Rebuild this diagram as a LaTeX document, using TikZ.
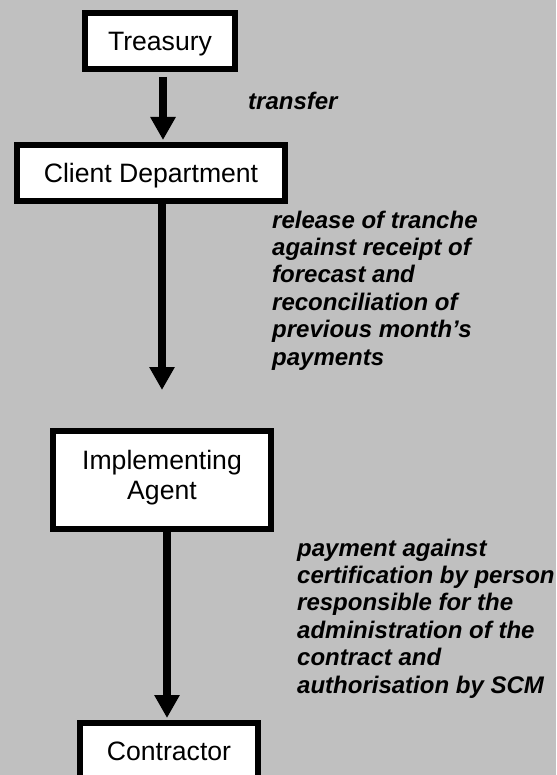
\documentclass[tikz,border=0pt]{standalone}
\usepackage{fontspec}
\setmainfont{Liberation Sans}
\usetikzlibrary{arrows.meta}
\definecolor{panel}{RGB}{192,192,192}
\tikzset{
  box/.style={draw, line width=6pt, fill=white, inner sep=0pt,
    font=\fontsize{26.6}{30}\selectfont, text height=19pt, text depth=0pt},
  flow/.style={line width=8.5pt, -{Triangle[width=24pt,length=23pt]}},
  note/.style={anchor=base west, align=left, inner sep=0pt,
    font=\fontsize{24}{27.4}\selectfont\bfseries\itshape}
}
\begin{document}
\begin{tikzpicture}[x=1pt,y=-1pt]
  \useasboundingbox (0,0) rectangle (556,775);
  \fill[panel] (0,0) rectangle (556,775);
  \clip (0,0) rectangle (556,775);
  \node[box, minimum width=150pt, minimum height=56pt] (treas) at (160,41) {Treasury};
  \node[box, minimum width=268pt, minimum height=56pt] (client) at (151,173) {Client Department};
  \node[box, minimum width=218pt, minimum height=98pt, align=center, text height=49pt, text depth=11pt] (agent) at (162,480) {Implementing\\Agent};
  \node[box, minimum width=178pt, minimum height=56pt] (contr) at (169,751) {Contractor};
  \coordinate (a1) at ([xshift=3pt]treas.south);
  \coordinate (a3) at ([xshift=-2pt]contr.north);
  \draw[flow, shorten <=5pt, shorten >=2pt] (a1) -- (a1 |- client.north);
  \draw[flow, shorten >=38pt] (agent.north |- client.south) -- (agent.north);
  \draw[flow, shorten >=2pt] (a3 |- agent.south) -- (a3);
  \node[note] (n1) at (248,110) {transfer};
  \node[note] (n2) at (272,365) {release of tranche\\against receipt of\\forecast and\\reconciliation of\\previous month’s\\payments};
  \node[note] (n3) at (297,693) {payment against\\certification by person\\responsible for the\\administration of the\\contract and\\authorisation by SCM};
\end{tikzpicture}
\end{document}
